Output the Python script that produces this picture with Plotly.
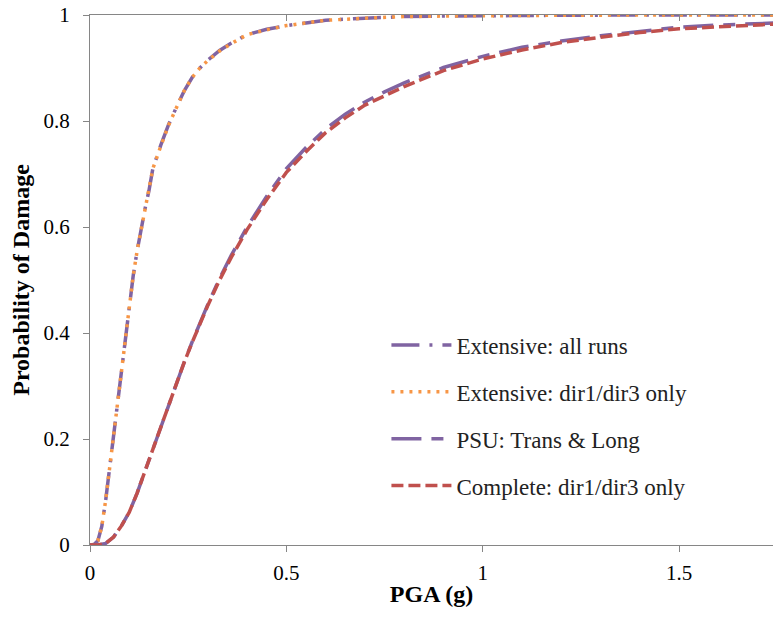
import plotly.graph_objects as go

# ---- data ----
x_ext = [0, 0.01, 0.02, 0.03, 0.04, 0.05, 0.06, 0.07, 0.08, 0.09, 0.10, 0.11, 0.12, 0.13,
         0.14, 0.15, 0.16, 0.18, 0.20, 0.22, 0.24, 0.26, 0.28, 0.30, 0.33, 0.36, 0.40, 0.45,
         0.50, 0.55, 0.60, 0.70, 0.80, 0.90, 1.0, 1.2, 1.4, 1.6, 1.75]
ext_all = [0, 0.001, 0.008, 0.035, 0.085, 0.145, 0.205, 0.265, 0.33, 0.395, 0.455, 0.508,
           0.555, 0.597, 0.634, 0.668, 0.71, 0.754, 0.793, 0.826, 0.857, 0.882, 0.900, 0.915,
           0.933, 0.947, 0.963, 0.973, 0.980, 0.985, 0.990, 0.994, 0.997, 0.998, 0.999,
           0.9995, 1.0, 1.0, 1.0]
ext_dir13 = [0, 0.001, 0.008, 0.035, 0.085, 0.145, 0.205, 0.265, 0.33, 0.395, 0.455, 0.508,
             0.555, 0.595, 0.632, 0.668, 0.71, 0.752, 0.792, 0.825, 0.857, 0.882, 0.900, 0.914,
             0.932, 0.946, 0.963, 0.972, 0.980, 0.985, 0.990, 0.994, 0.997, 0.998, 0.999,
             0.9995, 1.0, 1.0, 1.0]

x_cmp = [0, 0.02, 0.04, 0.06, 0.08, 0.10, 0.12, 0.14, 0.16, 0.18, 0.20, 0.22, 0.24, 0.26,
         0.28, 0.30, 0.33, 0.36, 0.40, 0.45, 0.50, 0.55, 0.60, 0.65, 0.70, 0.75, 0.80, 0.90,
         1.0, 1.1, 1.2, 1.3, 1.4, 1.5, 1.6, 1.75]
psu = [0, 0.0, 0.003, 0.015, 0.036, 0.062, 0.098, 0.14, 0.182, 0.222, 0.262, 0.305, 0.345,
       0.383, 0.419, 0.454, 0.503, 0.547, 0.600, 0.658, 0.710, 0.750, 0.785, 0.813, 0.836,
       0.855, 0.872, 0.901, 0.922, 0.939, 0.951, 0.961, 0.969, 0.977, 0.981, 0.985]
complete = [0, 0.0, 0.003, 0.015, 0.036, 0.062, 0.098, 0.14, 0.182, 0.222, 0.262, 0.305,
            0.345, 0.382, 0.418, 0.452, 0.50, 0.543, 0.595, 0.652, 0.703, 0.742, 0.778,
            0.806, 0.830, 0.848, 0.865, 0.895, 0.917, 0.934, 0.948, 0.958, 0.967, 0.974,
            0.978, 0.983]

names = ["Extensive: all runs", "Extensive: dir1/dir3 only", "PSU: Trans & Long",
         "Complete: dir1/dir3 only"]
x_ticks = [0, 0.5, 1, 1.5]
x_ticktext = ["0", "0.5", "1", "1.5"]
y_ticks = [0, 0.2, 0.4, 0.6, 0.8, 1]
y_ticktext = ["0", "0.2", "0.4", "0.6", "0.8", "1"]

PURPLE = "#8064A2"
ORANGE = "#F79646"
RED = "#C0504D"
AXIS = "#868686"
FONT = "Liberation Serif, Times New Roman, serif"
X_MAX = 1.739

fig = go.Figure()
fig.add_trace(go.Scatter(x=x_ext, y=ext_all, mode="lines", name=names[0], legendgroup="a",
                         line=dict(color=PURPLE, width=3.5, dash="28px,10px,3px,10px")))
fig.add_trace(go.Scatter(x=x_ext, y=ext_dir13, mode="lines", name=names[1], legendgroup="b",
                         line=dict(color=ORANGE, width=3.5, dash="3px,6px")))
fig.add_trace(go.Scatter(x=x_cmp, y=psu, mode="lines", name=names[2], legendgroup="c",
                         line=dict(color=PURPLE, width=3.5, dash="30px,10px,12px,10px")))
fig.add_trace(go.Scatter(x=x_cmp, y=complete, mode="lines", name=names[3], legendgroup="d",
                         line=dict(color=RED, width=3.5, dash="12px,5px")))
# invisible helper trace so the mirrored top axis is drawn
fig.add_trace(go.Scatter(x=[], y=[], xaxis="x2", showlegend=False, hoverinfo="skip"))

fig.update_layout(
    width=773, height=621,
    margin=dict(l=90, r=0, t=15, b=76, autoexpand=False),
    paper_bgcolor="white", plot_bgcolor="white",
    font=dict(family=FONT, size=20, color="black"),
    showlegend=True,
    legend=dict(x=0.434, y=0.418, xanchor="left", yanchor="top",
                bgcolor="rgba(0,0,0,0)", font=dict(family=FONT, size=23, color="#222222"),
                tracegroupgap=14, itemwidth=60),
    xaxis=dict(range=[0, X_MAX], tickvals=x_ticks, ticktext=x_ticktext, automargin=False,
               showgrid=False, zeroline=False, showline=True, linecolor=AXIS, linewidth=1,
               ticks="outside", ticklen=6, tickcolor=AXIS, ticklabelstandoff=3,
               ticklabeloverflow="allow",
               tickfont=dict(family=FONT, size=21, color="black"),
               title=dict(text="<b>PGA (g)</b>", font=dict(family=FONT, size=24), standoff=0)),
    xaxis2=dict(range=[0, X_MAX], overlaying="x", side="top", anchor="y", automargin=False,
                tickvals=x_ticks, showticklabels=False, showgrid=False, zeroline=False,
                showline=True, linecolor=AXIS, linewidth=1, ticks="inside", ticklen=6,
                tickcolor=AXIS),
    yaxis=dict(range=[0, 1], tickvals=y_ticks, ticktext=y_ticktext, automargin=False,
               showgrid=False, zeroline=False, showline=True, linecolor=AXIS, linewidth=1,
               ticks="outside", ticklen=6, tickcolor=AXIS, ticklabelstandoff=9,
               ticklabeloverflow="allow",
               tickfont=dict(family=FONT, size=21, color="black"),
               title=dict(text="<b>Probability of Damage</b>", font=dict(family=FONT, size=24),
                          standoff=7)),
)

# remove the default 8px page margin so the 773x621 figure fills the window exactly
fig.write_html("out.html",
               config={"displayModeBar": False},
               post_script="document.body.style.margin='0px';"
                           "document.body.style.overflow='hidden';")
